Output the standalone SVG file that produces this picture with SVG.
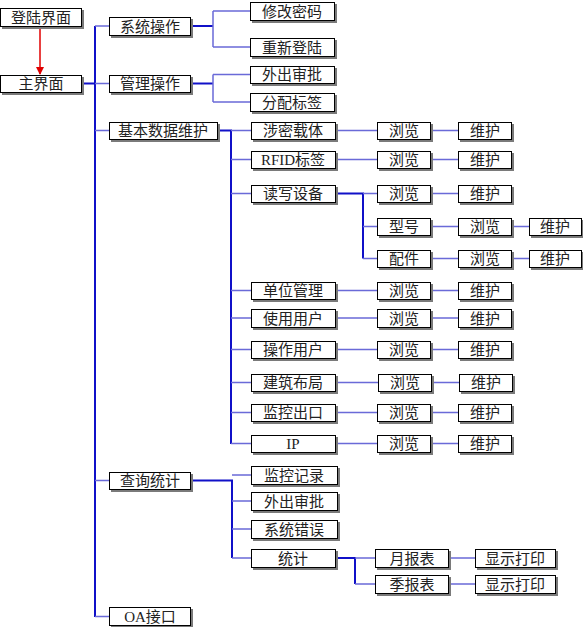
<svg xmlns="http://www.w3.org/2000/svg" width="583" height="627" viewBox="0 0 583 627">
<defs>
<style>
.b{fill:#fff;stroke:#000;stroke-width:1;filter:url(#sh)}
.t{font-family:"Liberation Serif","Noto Sans CJK SC",serif;font-size:15px;text-anchor:middle;fill:#222}
.k{stroke:#1010c8;stroke-width:2;fill:none}
.l{stroke:#6a6ad8;stroke-width:1.5;fill:none}
</style>
<filter id="sh" x="-10%" y="-20%" width="130%" height="160%">
<feDropShadow dx="2" dy="2" stdDeviation="0" flood-color="#7a7a7a" flood-opacity="1"/>
</filter>
<marker id="ar" markerWidth="8" markerHeight="8" refX="7" refY="4" orient="auto" markerUnits="userSpaceOnUse">
<path d="M0,0 L8,4 L0,8 Z" fill="#e00000"/>
</marker>
</defs>
<rect width="583" height="627" fill="#fff"/>
<g id="connectors">
<line x1="40" y1="27" x2="40" y2="74" stroke="#e00000" stroke-width="1.5" marker-end="url(#ar)"/>
<path class="k" d="M81,83.5H95"/>
<path class="k" d="M95,26V617"/>
<path class="l" d="M95,26H109M95,83.5H109M95,130.5H109M95,480.5H109M95,616.5H109"/>
<path class="k" d="M190,26H213"/>
<path class="l" d="M213,11V47M213,11H250M213,47H250"/>
<path class="k" d="M190,83.5H213"/>
<path class="l" d="M213,74.5V102M213,74.5H250M213,102H250"/>
<path class="k" d="M217,130.5H231V444"/>
<path class="l" d="M231,130.5H251M231,159.5H251M231,193.5H251M231,290.5H251M231,318H251M231,349.5H251M231,382.5H251M231,412.5H251M231,443.5H251"/>
<path class="l" d="M335,130.5H377M430,130.5H458M335,159.5H377M430,159.5H458M430,193.5H458M335,290.5H377M430,290.5H458M335,318H377M430,318H458M335,349.5H377M430,349.5H458M335,382.5H378M431,382.5H459M335,412.5H377M430,412.5H458M335,443.5H377M430,443.5H458"/>
<path class="k" d="M335,193.5H363V258.5"/>
<path class="l" d="M363,193.5H377M363,226.5H377M363,258.5H377M430,226.5H458M511,226.5H529M430,258.5H458M511,258.5H529"/>
<path class="k" d="M190,480.5H232V558"/>
<path class="l" d="M232,475H251M232,501H251M232,529H251M232,558H251"/>
<path class="k" d="M337,558H355V584"/>
<path class="l" d="M355,558H375M355,584H375M448,558H475M448,584H475"/>
</g>
<g id="n-login"><rect class="b" x="0.5" y="8.5" width="81" height="18"/><text class="t" x="41" y="23">登陆界面</text></g>
<g id="n-main"><rect class="b" x="0.5" y="75.5" width="81" height="17"/><text class="t" x="41" y="89">主界面</text></g>
<g id="n-sys"><rect class="b" x="109.5" y="17.5" width="81" height="18"/><text class="t" x="150" y="32">系统操作</text></g>
<g id="n-mgr"><rect class="b" x="109.5" y="75.5" width="81" height="17"/><text class="t" x="150" y="89">管理操作</text></g>
<g id="n-base"><rect class="b" x="109.5" y="122.5" width="108" height="17"/><text class="t" x="163" y="136">基本数据维护</text></g>
<g id="n-query"><rect class="b" x="109.5" y="472.5" width="81" height="17"/><text class="t" x="150" y="486">查询统计</text></g>
<g id="n-oa"><rect class="b" x="109.5" y="607.5" width="81" height="18"/><text class="t" x="150" y="622">OA接口</text></g>
<g id="n-pwd"><rect class="b" x="250.5" y="2.5" width="84" height="18"/><text class="t" x="292" y="17">修改密码</text></g>
<g id="n-relogin"><rect class="b" x="250.5" y="38.5" width="84" height="18"/><text class="t" x="292" y="53">重新登陆</text></g>
<g id="n-out1"><rect class="b" x="250.5" y="66.5" width="84" height="17"/><text class="t" x="292" y="80">外出审批</text></g>
<g id="n-tag"><rect class="b" x="250.5" y="93.5" width="84" height="18"/><text class="t" x="292" y="108">分配标签</text></g>
<g id="n-c1"><rect class="b" x="251.5" y="122.5" width="84" height="17"/><text class="t" x="293" y="136">涉密载体</text></g>
<g id="n-c1b"><rect class="b" x="377.5" y="122.5" width="53" height="17"/><text class="t" x="404" y="136">浏览</text></g>
<g id="n-c1m"><rect class="b" x="458.5" y="122.5" width="53" height="17"/><text class="t" x="485" y="136">维护</text></g>
<g id="n-c2"><rect class="b" x="251.5" y="151.5" width="84" height="17"/><text class="t" x="293" y="165">RFID标签</text></g>
<g id="n-c2b"><rect class="b" x="377.5" y="151.5" width="53" height="17"/><text class="t" x="404" y="165">浏览</text></g>
<g id="n-c2m"><rect class="b" x="458.5" y="151.5" width="53" height="17"/><text class="t" x="485" y="165">维护</text></g>
<g id="n-c3"><rect class="b" x="251.5" y="185.5" width="84" height="17"/><text class="t" x="293" y="199">读写设备</text></g>
<g id="n-c3b"><rect class="b" x="377.5" y="185.5" width="53" height="17"/><text class="t" x="404" y="199">浏览</text></g>
<g id="n-c3m"><rect class="b" x="458.5" y="185.5" width="53" height="17"/><text class="t" x="485" y="199">维护</text></g>
<g id="n-model"><rect class="b" x="377.5" y="218.5" width="53" height="17"/><text class="t" x="404" y="232">型号</text></g>
<g id="n-modelb"><rect class="b" x="458.5" y="218.5" width="53" height="17"/><text class="t" x="485" y="232">浏览</text></g>
<g id="n-modelm"><rect class="b" x="529.5" y="218.5" width="52" height="17"/><text class="t" x="555" y="232">维护</text></g>
<g id="n-part"><rect class="b" x="377.5" y="250.5" width="53" height="17"/><text class="t" x="404" y="264">配件</text></g>
<g id="n-partb"><rect class="b" x="458.5" y="250.5" width="53" height="17"/><text class="t" x="485" y="264">浏览</text></g>
<g id="n-partm"><rect class="b" x="529.5" y="250.5" width="52" height="17"/><text class="t" x="555" y="264">维护</text></g>
<g id="n-c4"><rect class="b" x="251.5" y="282.5" width="84" height="17"/><text class="t" x="293" y="296">单位管理</text></g>
<g id="n-c4b"><rect class="b" x="377.5" y="282.5" width="53" height="17"/><text class="t" x="404" y="296">浏览</text></g>
<g id="n-c4m"><rect class="b" x="458.5" y="282.5" width="53" height="17"/><text class="t" x="485" y="296">维护</text></g>
<g id="n-c5"><rect class="b" x="251.5" y="309.5" width="84" height="18"/><text class="t" x="293" y="324">使用用户</text></g>
<g id="n-c5b"><rect class="b" x="377.5" y="309.5" width="53" height="18"/><text class="t" x="404" y="324">浏览</text></g>
<g id="n-c5m"><rect class="b" x="458.5" y="309.5" width="53" height="18"/><text class="t" x="485" y="324">维护</text></g>
<g id="n-c6"><rect class="b" x="251.5" y="341.5" width="84" height="17"/><text class="t" x="293" y="355">操作用户</text></g>
<g id="n-c6b"><rect class="b" x="377.5" y="341.5" width="53" height="17"/><text class="t" x="404" y="355">浏览</text></g>
<g id="n-c6m"><rect class="b" x="458.5" y="341.5" width="53" height="17"/><text class="t" x="485" y="355">维护</text></g>
<g id="n-c7"><rect class="b" x="251.5" y="374.5" width="84" height="17"/><text class="t" x="293" y="388">建筑布局</text></g>
<g id="n-c7b"><rect class="b" x="378.5" y="374.5" width="53" height="17"/><text class="t" x="405" y="388">浏览</text></g>
<g id="n-c7m"><rect class="b" x="459.5" y="374.5" width="53" height="17"/><text class="t" x="486" y="388">维护</text></g>
<g id="n-c8"><rect class="b" x="251.5" y="404.5" width="84" height="17"/><text class="t" x="293" y="418">监控出口</text></g>
<g id="n-c8b"><rect class="b" x="377.5" y="404.5" width="53" height="17"/><text class="t" x="404" y="418">浏览</text></g>
<g id="n-c8m"><rect class="b" x="458.5" y="404.5" width="53" height="17"/><text class="t" x="485" y="418">维护</text></g>
<g id="n-c9"><rect class="b" x="251.5" y="435.5" width="84" height="17"/><text class="t" x="293" y="449">IP</text></g>
<g id="n-c9b"><rect class="b" x="377.5" y="435.5" width="53" height="17"/><text class="t" x="404" y="449">浏览</text></g>
<g id="n-c9m"><rect class="b" x="458.5" y="435.5" width="53" height="17"/><text class="t" x="485" y="449">维护</text></g>
<g id="n-d1"><rect class="b" x="251.5" y="466.5" width="86" height="18"/><text class="t" x="294" y="481">监控记录</text></g>
<g id="n-d2"><rect class="b" x="251.5" y="492.5" width="86" height="18"/><text class="t" x="294" y="507">外出审批</text></g>
<g id="n-d3"><rect class="b" x="251.5" y="520.5" width="86" height="18"/><text class="t" x="294" y="535">系统错误</text></g>
<g id="n-d4"><rect class="b" x="251.5" y="549.5" width="84" height="18"/><text class="t" x="293" y="564">统计</text></g>
<g id="n-month"><rect class="b" x="375.5" y="549.5" width="73" height="18"/><text class="t" x="412" y="564">月报表</text></g>
<g id="n-monthp"><rect class="b" x="475.5" y="549.5" width="80" height="18"/><text class="t" x="515" y="564">显示打印</text></g>
<g id="n-quarter"><rect class="b" x="375.5" y="575.5" width="73" height="18"/><text class="t" x="412" y="590">季报表</text></g>
<g id="n-quarterp"><rect class="b" x="475.5" y="575.5" width="80" height="18"/><text class="t" x="515" y="590">显示打印</text></g>
</svg>
